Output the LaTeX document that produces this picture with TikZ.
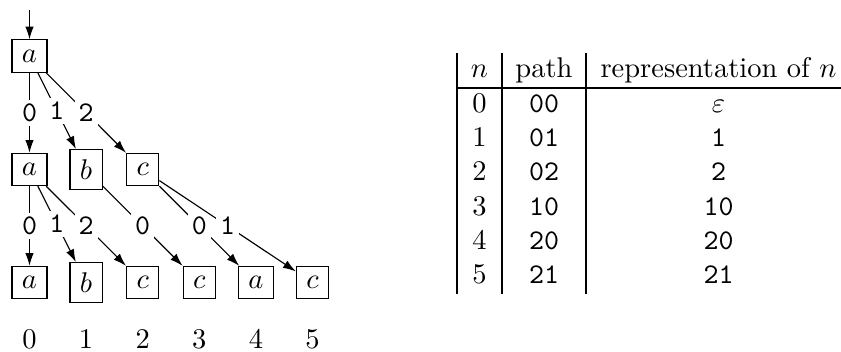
\documentclass[tikz,border=0pt]{standalone}
\usetikzlibrary{arrows.meta}
\begin{document}
\begin{tikzpicture}[x=0.3509pt, y=-0.3509pt,
    box/.style={draw, inner sep=3.5pt},
    lbl/.style={fill=white, inner sep=1.4pt, font=\ttfamily},
    edge/.style={-{Latex[length=4.5pt,width=3pt]}},
    tabrule/.style={line width=0.7pt}]
  \useasboundingbox (0,0) rectangle (841,351);

  % tree
  \coordinate (start) at (29.5,10);
  \node[box] (t0) at (29.5,56) {$a$};

  \node[box] (m0) at (29.5,169.5) {$a$};
  \node[box] (m1) at (86.1,169.5) {$b$};
  \node[box] (m2) at (142.7,169.5) {$c$};

  \node[box] (d0) at (29.5,282.5) {$a$};
  \node[box] (d1) at (86.1,282.5) {$b$};
  \node[box] (d2) at (142.7,282.5) {$c$};
  \node[box] (d3) at (199.3,282.5) {$c$};
  \node[box] (d4) at (255.9,282.5) {$a$};
  \node[box] (d5) at (312.5,282.5) {$c$};

  \draw[edge] (start) -- (t0);
  \draw[edge] (t0) -- node[lbl] {0} (m0);
  \draw[edge] (t0) -- node[lbl] {1} (m1);
  \draw[edge] (t0) -- node[lbl] {2} (m2);

  \draw[edge] (m0) -- node[lbl] {0} (d0);
  \draw[edge] (m0) -- node[lbl] {1} (d1);
  \draw[edge] (m0) -- node[lbl] {2} (d2);
  \draw[edge] (m1) -- node[lbl] {0} (d3);
  \draw[edge] (m2) -- node[lbl] {0} (d4);
  \draw[edge] (m2) -- node[lbl] {1} (d5);

  \foreach \i in {0,...,5}
    \node[anchor=base, inner ysep=0pt] (num\i) at (29.5+56.6*\i,348.5) {$\i$};

  % table
  \draw[tabrule] (457,53) -- (457,294);
  \draw[tabrule] (502,53) -- (502,294);
  \draw[tabrule] (586,53) -- (586,294);
  \draw[tabrule] (457,88) -- (851,88);

  \node[anchor=base] (hn) at (479.5,77.2) {$n$};
  \node[anchor=base] (hpath) at (544,77.2) {path};
  \node[anchor=base] (hrep) at (718.5,77.2) {representation of $n$};

  \foreach \p/\r [count=\k from 0] in {00/$\varepsilon$, 01/\texttt{1}, 02/\texttt{2},
      10/\texttt{10}, 20/\texttt{20}, 21/\texttt{21}} {
    \node[anchor=base] (n\k) at (479.5,112.5+34.2*\k) {$\k$};
    \node[anchor=base] (p\k) at (544,112.5+34.2*\k) {\texttt{\p}};
    \node[anchor=base] (r\k) at (718.5,112.5+34.2*\k) {\r};
  }
\end{tikzpicture}
\end{document}
